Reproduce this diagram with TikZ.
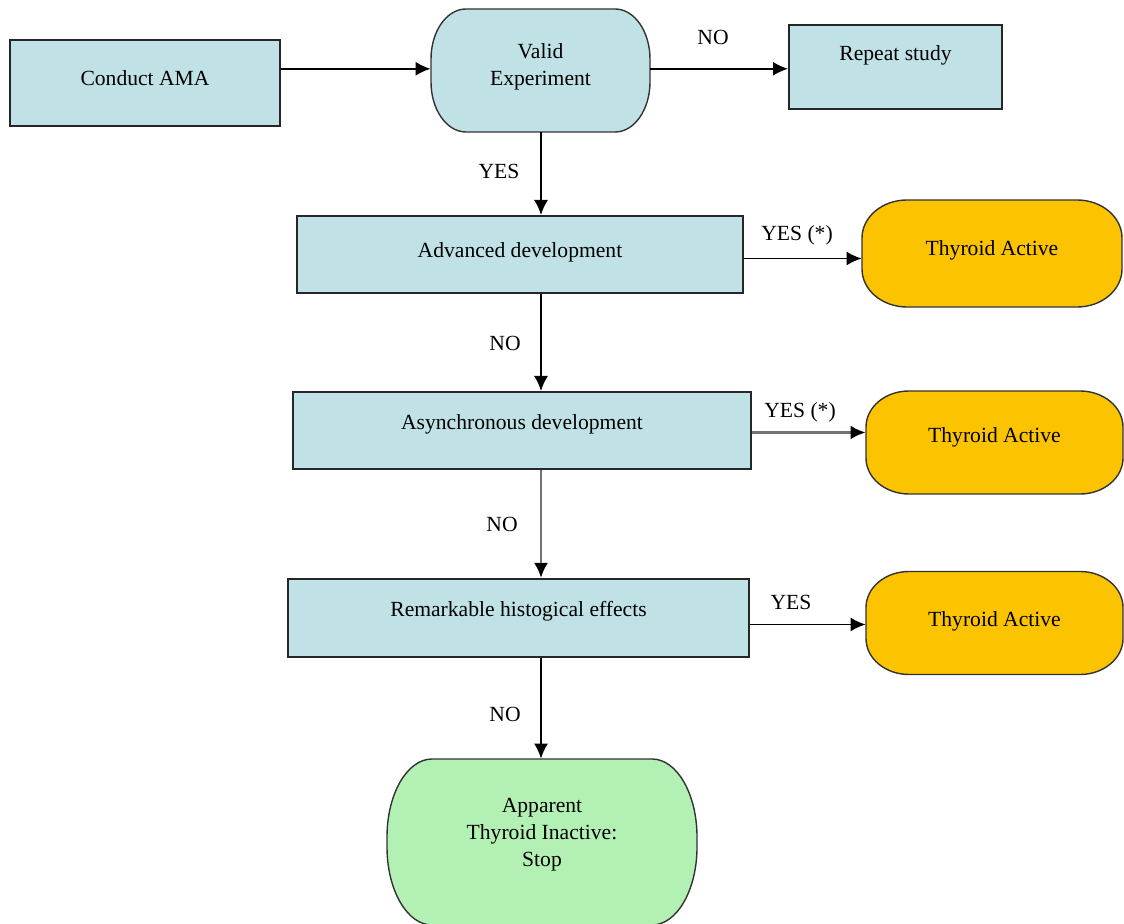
\documentclass[tikz,border=0pt]{standalone}
\usepackage{fontspec}
\setmainfont{Liberation Serif}
\usetikzlibrary{arrows.meta}
\definecolor{boxblue}{RGB}{192,226,230}
\definecolor{termorange}{RGB}{252,196,0}
\definecolor{termgreen}{RGB}{179,240,180}
% soft-cornered terminal outline: cx cy halfwidth halfheight rx ry colour (pixel units)
\newcommand{\softcap}[7]{%
  \filldraw[termline, fill=#7]
   ({#1-#3},{#2-#4+#6})
   .. controls ({#1-#3},{#2-#4+0.4477*#6}) and ({#1-#3+0.4477*#5},{#2-#4}) .. ({#1-#3+#5},{#2-#4})
   -- ({#1+#3-#5},{#2-#4})
   .. controls ({#1+#3-0.4477*#5},{#2-#4}) and ({#1+#3},{#2-#4+0.4477*#6}) .. ({#1+#3},{#2-#4+#6})
   -- ({#1+#3},{#2+#4-#6})
   .. controls ({#1+#3},{#2+#4-0.4477*#6}) and ({#1+#3-0.4477*#5},{#2+#4}) .. ({#1+#3-#5},{#2+#4})
   -- ({#1-#3+#5},{#2+#4})
   .. controls ({#1-#3+0.4477*#5},{#2+#4}) and ({#1-#3},{#2+#4-0.4477*#6}) .. ({#1-#3},{#2+#4-#6})
   -- cycle;}
\begin{document}
\begin{tikzpicture}[x=0.5pt,y=-0.5pt,
  font=\fontsize{10.8}{13.4}\selectfont,
  box/.style={draw=black!85, line width=1pt, fill=boxblue, rectangle, inner sep=0pt},
  termline/.style={draw=black!80, line width=0.7pt},
  termbox/.style={rectangle, draw=none, inner sep=0pt},
  txt/.style={inner sep=0pt, text height=7pt, text depth=2pt},
  txtm/.style={inner sep=0pt, align=center},
  arr/.style={line width=0.9pt, -{Latex[length=7.5pt,width=7pt]}},
  garr/.style={line width=1.4pt, draw=black!55, -{Latex[length=7.5pt,width=7pt,color=black]}},
  lab/.style={inner sep=0pt, text height=7pt, text depth=2pt}]

\useasboundingbox (0,0) rectangle (1124,924);

% process boxes
\node[box, minimum width=135pt, minimum height=43pt,
  label={[txt, yshift=1.25pt, name=conductT]center:Conduct AMA}] (conduct) at (145,83) {};
\node[box, minimum width=106.5pt, minimum height=42.25pt,
  label={[txt, yshift=5.75pt, name=repeatT]center:Repeat study}] (repeat) at (895.5,67.25) {};
\node[box, minimum width=223pt, minimum height=38.5pt,
  label={[txt, yshift=0.75pt, name=advT]center:Advanced development}] (adv) at (520,254.5) {};
\node[box, minimum width=229pt, minimum height=38.5pt,
  label={[txt, yshift=3pt, name=asyncT]center:Asynchronous development}] (async) at (522,430.5) {};
\node[box, minimum width=230.5pt, minimum height=39pt,
  label={[txt, yshift=3pt, name=remarkT]center:Remarkable histogical effects}] (remark) at (518.5,618) {};

% terminal outlines
\softcap{540.5}{70.5}{109.5}{61.5}{35}{50}{boxblue}
\softcap{992}{253.5}{130}{53.5}{45}{38}{termorange}
\softcap{994.5}{442.5}{128.5}{51.5}{43}{36}{termorange}
\softcap{994.5}{623}{128.5}{51.5}{43}{36}{termorange}
\softcap{542}{842}{155}{83}{45}{78}{termgreen}

% terminal nodes
\node[termbox, minimum width=109.5pt, minimum height=61.5pt,
  label={[txtm, yshift=2pt, name=validT]center:Valid\\Experiment}] (valid) at (540.5,70.5) {};
\node[termbox, minimum width=130pt, minimum height=53.5pt,
  label={[txt, yshift=1.5pt, name=ta1T]center:Thyroid Active}] (ta1) at (992,253.5) {};
\node[termbox, minimum width=128.5pt, minimum height=51.5pt,
  label={[txt, yshift=2.5pt, name=ta2T]center:Thyroid Active}] (ta2) at (994.5,442.5) {};
\node[termbox, minimum width=128.5pt, minimum height=51.5pt,
  label={[txt, yshift=0.75pt, name=ta3T]center:Thyroid Active}] (ta3) at (994.5,623) {};
\node[termbox, minimum width=155pt, minimum height=83pt,
  label={[txtm, yshift=3.75pt, name=stopT]center:Apparent\\Thyroid Inactive:\\Stop}] (stop) at (542,842) {};

% helper coordinates
\coordinate (h1) at (0,68.8);
\coordinate (h2) at (0,258.5);
\coordinate (h3) at (0,432.5);
\coordinate (h4) at (0,624.5);
\coordinate (vx) at (541,0);

% connectors
\draw[arr] (conduct.east |- h1) -- (valid.west |- h1);
\draw[arr] (valid.east |- h1) -- (repeat.west |- h1);
\draw[arr] (valid.south -| vx) -- (adv.north -| vx);
\draw[arr] (adv.east |- h2) -- (ta1.west |- h2);
\draw[arr] (adv.south -| vx) -- (async.north -| vx);
\draw[garr] (async.east |- h3) -- (ta2.west |- h3);
\draw[garr] (async.south -| vx) -- (remark.north -| vx);
\draw[arr] (remark.east |- h4) -- (ta3.west |- h4);
\draw[arr] (remark.south -| vx) -- (stop.north -| vx);

% connector labels
\node[lab] (lno1) at (713,40) {NO};
\node[lab] (lyes1) at (499,174) {YES};
\node[lab] (lyes2) at (797,236) {YES (*)};
\node[lab] (lno2) at (505,346) {NO};
\node[lab] (lyes3) at (800,413) {YES (*)};
\node[lab] (lno3) at (502,526) {NO};
\node[lab] (lyes4) at (791,605) {YES};
\node[lab] (lno4) at (505,716) {NO};
\end{tikzpicture}
\end{document}
